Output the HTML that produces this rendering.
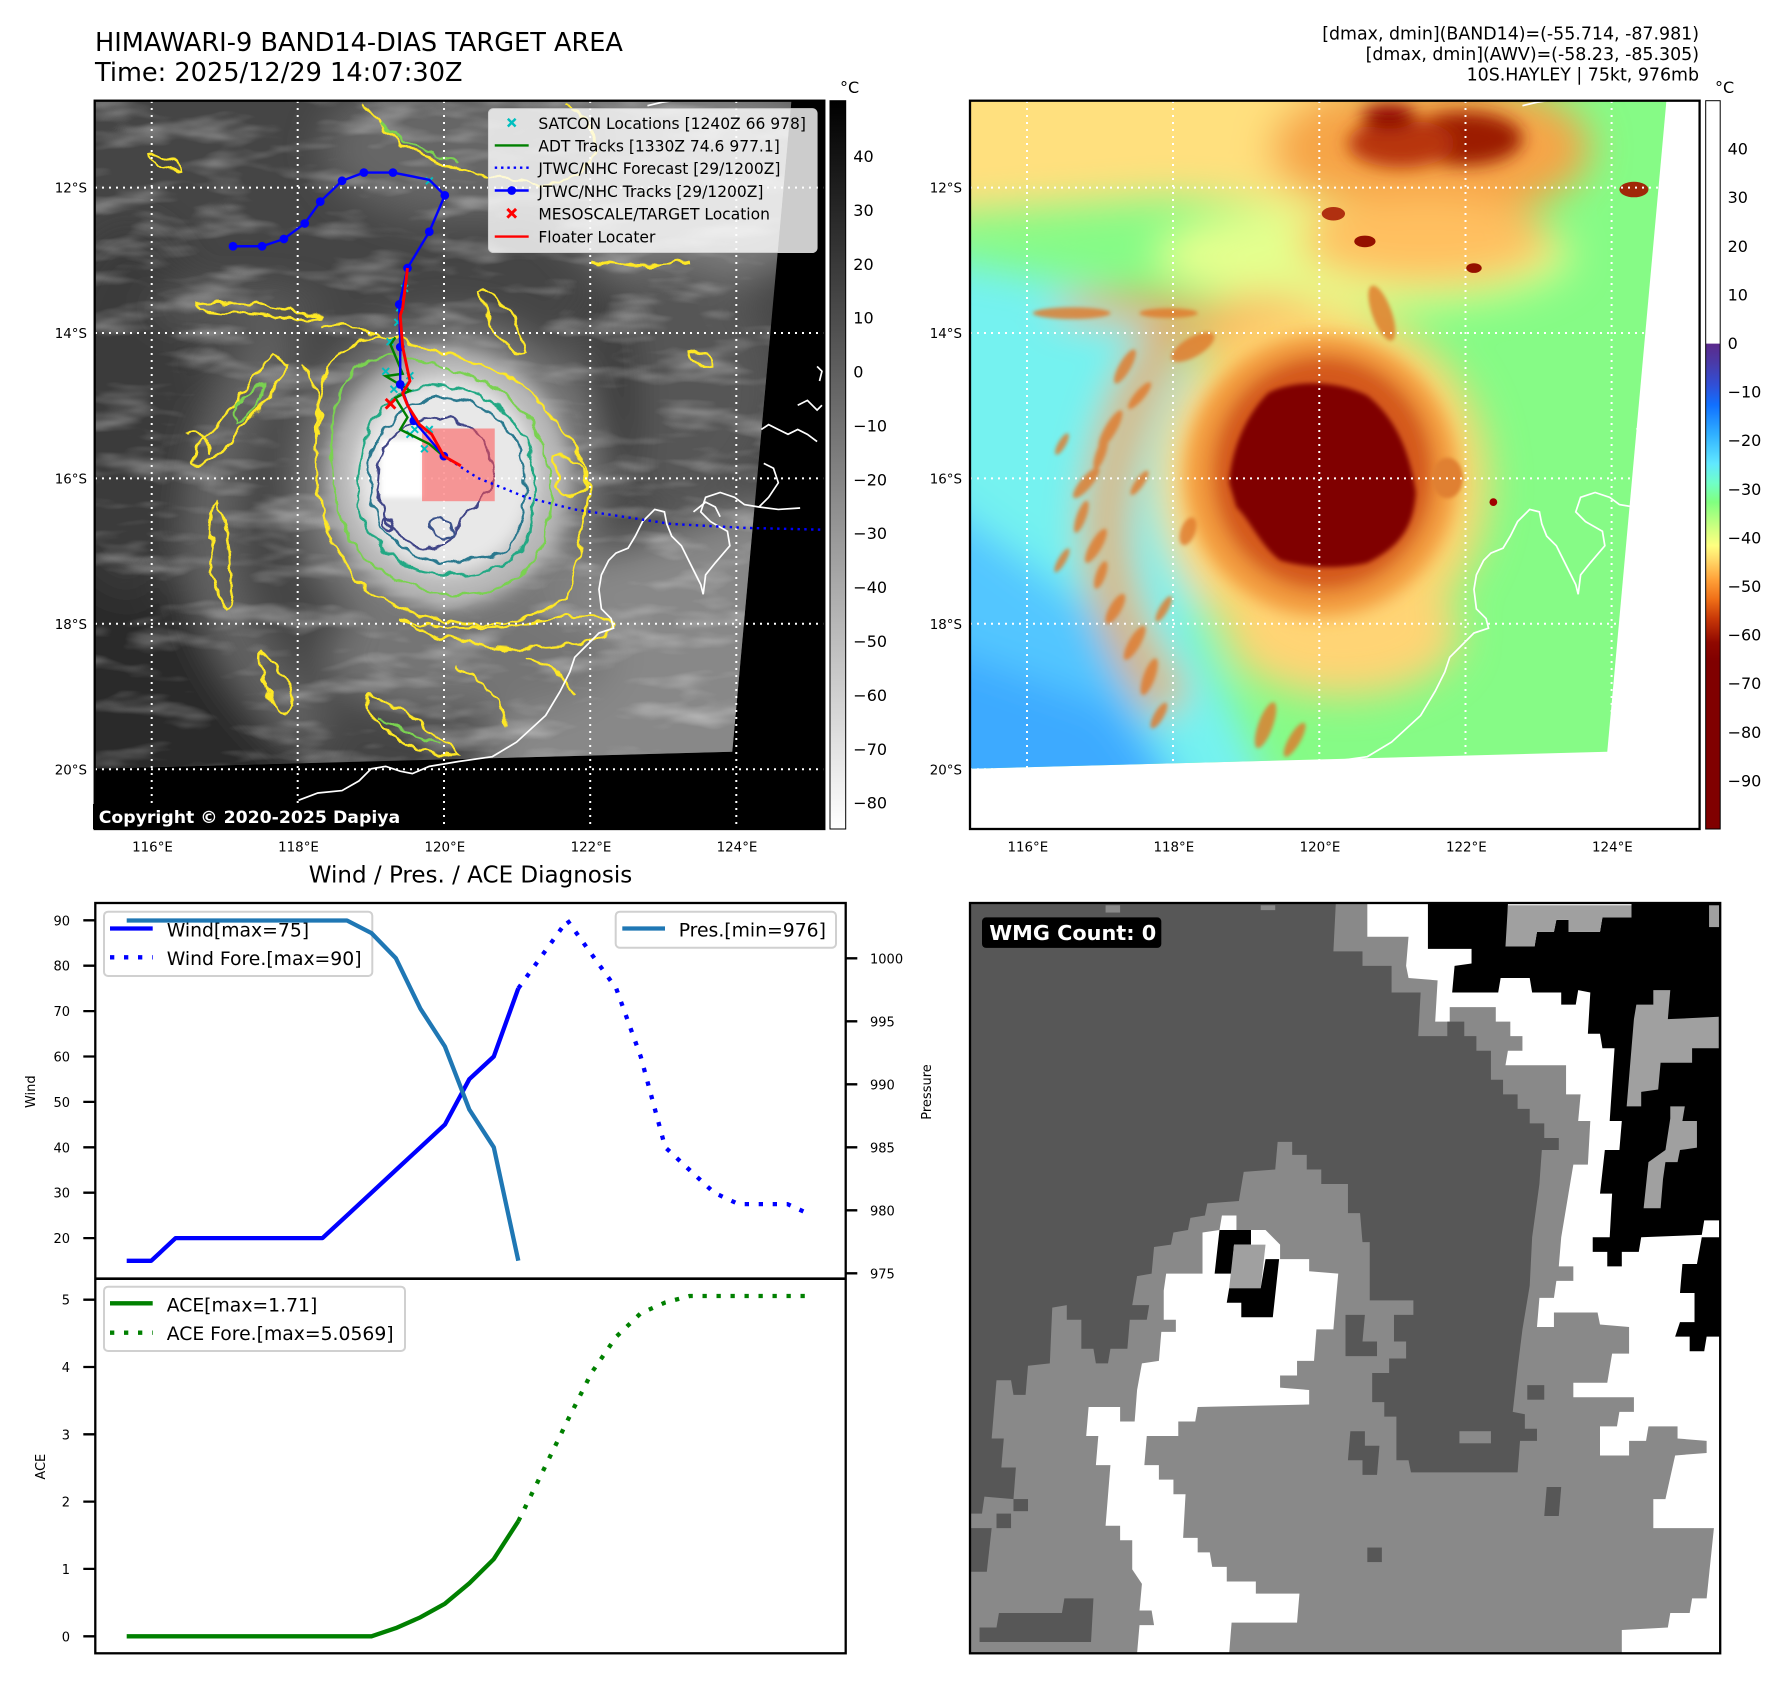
<!DOCTYPE html>
<html><head><meta charset="utf-8">
<style>
html,body{margin:0;padding:0;background:#fff;}
svg{display:block;}
text{font-family:"DejaVu Sans","Liberation Sans",sans-serif;}
</style></head>
<body>
<svg width="1788" height="1690" viewBox="0 0 1788 1690" xmlns="http://www.w3.org/2000/svg">
<defs>
 <filter id="b50" x="-30%" y="-30%" width="160%" height="160%"><feGaussianBlur stdDeviation="40"/></filter>
 <filter id="b20" x="-30%" y="-30%" width="160%" height="160%"><feGaussianBlur stdDeviation="18"/></filter>
 <filter id="b6" x="-30%" y="-30%" width="160%" height="160%"><feGaussianBlur stdDeviation="5"/></filter>
 <filter id="b4" x="-50%" y="-50%" width="200%" height="200%"><feGaussianBlur stdDeviation="4"/></filter>
 <filter id="wig" x="-5%" y="-5%" width="110%" height="110%"><feTurbulence type="fractalNoise" baseFrequency="0.03" numOctaves="2" seed="4" result="t"/><feDisplacementMap in="SourceGraphic" in2="t" scale="26" xChannelSelector="R" yChannelSelector="G"/></filter>
 <filter id="tex" x="0" y="0" width="100%" height="100%"><feTurbulence type="fractalNoise" baseFrequency="0.006 0.02" numOctaves="3" seed="11"/><feColorMatrix type="matrix" values="0 0 0 0 1  0 0 0 0 1  0 0 0 0 1  1.6 0 0 0 -0.78"/></filter>
 <clipPath id="ax"><rect x="9.7" y="11.8" width="1505" height="1502.5"/></clipPath>
 <clipPath id="dat"><polygon points="10,12 1447,12 1325,1355 10,1390"/></clipPath>
 <linearGradient id="gcb" x1="0" y1="0" x2="0" y2="1"><stop offset="0" stop-color="#000"/><stop offset="1" stop-color="#fff"/></linearGradient>
 <linearGradient id="ccb" x1="0" y1="0" x2="0" y2="1">
  <stop offset="0" stop-color="#fff"/><stop offset="0.333" stop-color="#fff"/>
  <stop offset="0.334" stop-color="#5b2a8c"/><stop offset="0.36" stop-color="#4a3aa8"/>
  <stop offset="0.391" stop-color="#3050d8"/><stop offset="0.418" stop-color="#1070ff"/>
  <stop offset="0.458" stop-color="#30b0ff"/><stop offset="0.498" stop-color="#60e8ff"/>
  <stop offset="0.525" stop-color="#70ffc8"/><stop offset="0.551" stop-color="#80ff80"/>
  <stop offset="0.591" stop-color="#d8ff80"/><stop offset="0.611" stop-color="#ffff80"/>
  <stop offset="0.631" stop-color="#ffd868"/><stop offset="0.658" stop-color="#ffa038"/>
  <stop offset="0.684" stop-color="#f07018"/><stop offset="0.711" stop-color="#c83808"/>
  <stop offset="0.744" stop-color="#900800"/><stop offset="0.77" stop-color="#800000"/>
  <stop offset="1" stop-color="#800000"/>
 </linearGradient>
</defs>

<!-- Titles -->
<text x="95" y="51" font-size="25.6">HIMAWARI-9 BAND14-DIAS TARGET AREA</text>
<text x="95" y="81" font-size="25.6">Time: 2025/12/29 14:07:30Z</text>
<text x="1699" y="39.5" font-size="17.4" text-anchor="end">[dmax, dmin](BAND14)=(-55.714, -87.981)</text>
<text x="1699" y="60" font-size="17.4" text-anchor="end">[dmax, dmin](AWV)=(-58.23, -85.305)</text>
<text x="1699" y="80.5" font-size="17.4" text-anchor="end">10S.HAYLEY | 75kt, 976mb</text>

<!-- ================= LEFT MAP ================= -->
<g transform="translate(90,95) scale(0.48473)">
 <g clip-path="url(#ax)">
  <rect x="0" y="0" width="1568" height="1568" fill="#000"/>
  <g clip-path="url(#dat)">
   <rect x="0" y="0" width="1568" height="1568" fill="#454545"/>
   <g filter="url(#b50)">
    <ellipse cx="1250" cy="170" rx="320" ry="220" fill="#7e7e7e"/>
    <ellipse cx="780" cy="110" rx="300" ry="150" fill="#666"/>
    <polygon points="-100,850 300,1100 520,1500 -100,1500" fill="#2c2c2c"/>
    <ellipse cx="80" cy="650" rx="170" ry="380" fill="#3a3a3a"/>
    <polygon points="950,980 1450,820 1400,1450 780,1450" fill="#888"/>
    <ellipse cx="1200" cy="600" rx="220" ry="260" fill="#575757"/>
    <path d="M1060,420 Q1120,640 1060,880" stroke="#333" stroke-width="70" fill="none"/>
    <ellipse cx="740" cy="800" rx="320" ry="340" fill="#7a7a7a"/>
    <path d="M400,500 Q240,680 250,940 Q270,1160 470,1320" stroke="#666" stroke-width="100" fill="none"/>
    <ellipse cx="780" cy="1160" rx="300" ry="120" fill="#747474"/>
    <ellipse cx="300" cy="440" rx="180" ry="30" fill="#636363"/>
   </g>
   <rect x="0" y="0" width="1568" height="1568" filter="url(#tex)" opacity="0.55"/>
   <g filter="url(#b20)">
    <ellipse cx="740" cy="790" rx="250" ry="265" fill="#b8b8b8"/>
    <ellipse cx="735" cy="785" rx="185" ry="200" fill="#e8e8e8"/>
   </g>
   <rect x="600" y="712" width="88" height="118" fill="#fff" filter="url(#b6)"/>
  </g>
  <!-- contours -->
  <g clip-path="url(#dat)">
  <g filter="url(#wig)" fill="none" stroke-width="5">
   <g stroke="#fde725">
    <path d="M480,600 C490,520 560,495 640,500 C700,530 790,545 880,590 C950,650 1010,720 1030,800 C1030,880 1000,960 990,1020 C960,1070 880,1085 800,1095 C700,1085 610,1055 560,1010 C500,940 470,860 465,760 C465,690 470,640 480,600 Z"/>
    <path d="M380,540 C330,560 320,620 290,650 C250,700 210,720 215,760 C240,770 280,740 300,700 C330,660 380,620 410,560 Z"/>
    <path d="M260,840 C240,900 250,980 270,1050 C285,1080 300,1040 290,980 C285,920 280,870 260,840 Z"/>
    <path d="M350,1150 C380,1160 410,1200 420,1260 C410,1290 380,1280 370,1240 C360,1200 345,1180 350,1150 Z"/>
    <path d="M570,1240 C620,1250 680,1290 760,1360 C700,1370 640,1340 600,1300 C580,1280 565,1260 570,1240 Z"/>
    <path d="M560,20 C600,60 640,110 700,130 C760,160 830,170 900,180 C960,190 1020,170 1040,120 C1050,80 1020,40 980,20"/>
    <path d="M220,432 C300,420 400,440 480,462 C420,470 330,450 230,445 Z"/>
    <path d="M800,410 C840,400 880,440 900,530 C870,540 840,500 820,460 Z"/>
    <path d="M960,740 C990,740 1020,760 1025,800 C1020,830 990,835 965,810 Z"/>
    <path d="M1235,530 C1260,525 1290,540 1285,555 C1260,565 1240,560 1235,530 Z"/>
    <path d="M120,125 C150,120 190,140 190,155 C160,160 130,150 120,125 Z"/>
    <path d="M640,1080 C720,1110 820,1100 900,1090 C980,1080 1060,1060 1080,1100 C1050,1130 980,1140 900,1140 C800,1140 700,1120 640,1080 Z"/>
    <path d="M1040,340 C1100,350 1150,360 1240,345"/>
    <path d="M200,700 C230,690 260,720 250,740"/>
    <path d="M760,1180 C800,1200 840,1240 860,1300"/>
    <path d="M440,560 C470,600 480,650 470,700"/>
    <path d="M480,480 C520,470 560,480 600,500"/>
    <path d="M900,1160 C940,1170 980,1200 1000,1240"/>
   </g>
   <g stroke="#7ad151">
    <path d="M510,620 C530,550 610,520 690,555 C790,570 870,610 920,690 C955,760 960,850 930,940 C900,1000 830,1030 750,1030 C660,1025 590,990 545,930 C510,870 495,780 500,700 C502,670 505,640 510,620 Z"/>
    <path d="M300,640 C320,620 345,600 360,600 C350,640 320,670 300,680 Z"/>
    <path d="M600,60 C650,100 700,120 760,140"/>
    <path d="M590,1280 C630,1300 680,1320 720,1340"/>
   </g>
   <path stroke="#22a884" d="M555,760 C565,680 620,615 700,598 C790,595 860,640 905,720 C930,800 925,880 890,940 C850,985 780,995 710,988 C630,975 575,920 555,860 C550,830 550,790 555,760 Z"/>
   <path stroke="#2a788e" d="M575,770 C590,690 640,640 710,625 C790,620 850,660 885,730 C905,800 900,880 865,935 C820,965 750,970 690,955 C630,935 590,885 578,830 Z"/>
   <path stroke="#414487" d="M595,760 C610,700 660,670 720,665 C780,670 830,710 835,780 C830,830 790,850 760,880 C745,920 710,945 670,930 C630,910 600,860 592,810 Z"/>
   <path stroke="#3b528b" d="M700,880 C720,870 750,880 745,905 C730,920 705,915 700,880 Z"/>
   <circle cx="620" cy="885" r="10" stroke="#414487"/>
  </g>
  </g>
  <!-- coastline -->
  <g fill="none" stroke="#fff" stroke-width="3.5">
   <path d="M430,1455 L470,1440 L520,1435 L555,1415 L580,1390 L610,1385 L640,1395 L665,1400 L700,1385 L760,1375 L830,1365 L880,1335 L940,1280 L970,1230 L990,1190 L1000,1160 L1030,1130 L1050,1110 L1080,1100 L1075,1080 L1055,1060 L1050,1020 L1055,990 L1070,960 L1085,945 L1110,935 L1125,910 L1140,880 L1165,855 L1185,860 L1190,885 L1200,910 L1220,930 L1240,970 L1260,1010 L1265,1030 L1270,990 L1290,965 L1320,930 L1315,900 L1280,880 L1260,860 L1270,830 L1300,820 L1330,830 L1350,845 L1380,850 L1420,855 L1465,852"/>
   <path d="M1385,690 L1400,680 L1420,690 L1440,700 L1460,690 L1480,700 L1500,715"/>
   <path d="M1460,640 L1480,630 L1500,650 L1510,640"/>
   <path d="M1500,560 L1510,570 L1505,590"/>
   <path d="M1390,760 L1410,770 L1420,800 L1400,830 L1380,850"/>
   <path d="M1245,860 L1270,840 L1290,850 L1300,870"/>
   <path d="M1150,22 L1180,15 L1200,12"/>
  </g>
 </g>
</g>

<!-- ================= RIGHT MAP ================= -->
<g transform="translate(965,95) scale(0.48473)">
 <g clip-path="url(#ax)">
  <rect x="0" y="0" width="1568" height="1568" fill="#fff"/>
  <g clip-path="url(#dat)">
   <rect x="0" y="0" width="1568" height="1568" fill="#86fb86"/>
   <g filter="url(#b50)">
    <polygon points="-100,-100 820,-100 720,230 420,210 -100,250" fill="#ffe07e"/>
    <ellipse cx="960" cy="110" rx="330" ry="150" fill="#f6a446"/>
    <ellipse cx="820" cy="330" rx="430" ry="110" fill="#e4ff8e"/>
    <ellipse cx="950" cy="300" rx="260" ry="90" fill="#ffc060"/>
    <ellipse cx="620" cy="480" rx="160" ry="70" fill="#f8b860"/>
    <polygon points="-100,330 300,400 470,560 480,1100 660,1500 -100,1500" fill="#74f2f0"/>
    <polygon points="-100,800 260,1060 480,1500 -100,1500" fill="#52c6ff"/>
    <polygon points="-100,1120 300,1260 470,1500 -100,1500" fill="#3eaaff"/>
    <ellipse cx="740" cy="800" rx="340" ry="360" fill="#ffd672"/>
    <ellipse cx="780" cy="1110" rx="240" ry="130" fill="#ffd474"/>
    <path d="M440,470 Q300,660 290,900 Q300,1110 430,1260" stroke="#e0b070" stroke-width="90" fill="none"/>
    <ellipse cx="340" cy="440" rx="160" ry="28" fill="#eea060"/>
   </g>
   <g filter="url(#b20)">
    <ellipse cx="735" cy="785" rx="280" ry="290" fill="#f29a3e"/>
    <ellipse cx="738" cy="780" rx="228" ry="242" fill="#d4581a"/>
    <ellipse cx="1030" cy="90" rx="120" ry="55" fill="#9c1a04"/>
    <ellipse cx="900" cy="100" rx="110" ry="50" fill="#b83410"/>
    <ellipse cx="875" cy="45" rx="55" ry="25" fill="#8b0000"/>
   </g>
   <path filter="url(#b6)" fill="#800000" d="M545,800 C550,730 580,660 625,615 C670,590 760,585 830,620 C880,660 915,720 930,820 C925,890 900,930 830,965 C770,980 700,975 650,960 C610,930 590,880 560,850 Z"/>
   <g fill="#e0782a" opacity="0.8" filter="url(#b4)">
    <ellipse cx="330" cy="560" rx="40" ry="12" transform="rotate(-60 330 560)"/>
    <ellipse cx="360" cy="620" rx="35" ry="10" transform="rotate(-50 360 620)"/>
    <ellipse cx="300" cy="690" rx="45" ry="12" transform="rotate(-60 300 690)"/>
    <ellipse cx="280" cy="740" rx="35" ry="10" transform="rotate(-70 280 740)"/>
    <ellipse cx="250" cy="800" rx="40" ry="12" transform="rotate(-50 250 800)"/>
    <ellipse cx="240" cy="870" rx="35" ry="10" transform="rotate(-70 240 870)"/>
    <ellipse cx="270" cy="930" rx="40" ry="12" transform="rotate(-60 270 930)"/>
    <ellipse cx="280" cy="990" rx="30" ry="10" transform="rotate(-70 280 990)"/>
    <ellipse cx="310" cy="1060" rx="35" ry="12" transform="rotate(-60 310 1060)"/>
    <ellipse cx="350" cy="1130" rx="40" ry="12" transform="rotate(-60 350 1130)"/>
    <ellipse cx="380" cy="1200" rx="40" ry="12" transform="rotate(-70 380 1200)"/>
    <ellipse cx="400" cy="1280" rx="30" ry="10" transform="rotate(-60 400 1280)"/>
    <ellipse cx="620" cy="1300" rx="50" ry="15" transform="rotate(-70 620 1300)"/>
    <ellipse cx="680" cy="1330" rx="40" ry="12" transform="rotate(-60 680 1330)"/>
    <ellipse cx="220" cy="450" rx="80" ry="12"/>
    <ellipse cx="420" cy="450" rx="60" ry="10"/>
    <ellipse cx="470" cy="520" rx="50" ry="20" transform="rotate(-30 470 520)"/>
    <ellipse cx="200" cy="720" rx="25" ry="8" transform="rotate(-60 200 720)"/>
    <ellipse cx="460" cy="900" rx="30" ry="15" transform="rotate(-70 460 900)"/>
    <ellipse cx="860" cy="450" rx="20" ry="60" transform="rotate(-20 860 450)"/>
    <ellipse cx="360" cy="800" rx="30" ry="9" transform="rotate(-55 360 800)"/>
    <ellipse cx="200" cy="960" rx="28" ry="8" transform="rotate(-60 200 960)"/>
    <ellipse cx="410" cy="1060" rx="30" ry="9" transform="rotate(-60 410 1060)"/>
   </g>
   <ellipse cx="995" cy="790" rx="32" ry="42" fill="#e08030" filter="url(#b4)"/>
   <ellipse cx="1380" cy="195" rx="30" ry="16" fill="#a02808"/>
   <ellipse cx="825" cy="302" rx="22" ry="12" fill="#951000"/>
   <ellipse cx="1050" cy="357" rx="16" ry="10" fill="#951000"/>
   <ellipse cx="760" cy="245" rx="24" ry="14" fill="#b03010"/>
   <circle cx="1090" cy="840" r="8" fill="#a00000"/>
  </g>
  <g fill="none" stroke="#fff" stroke-width="3.5">
   <path d="M430,1455 L470,1440 L520,1435 L555,1415 L580,1390 L610,1385 L640,1395 L665,1400 L700,1385 L760,1375 L830,1365 L880,1335 L940,1280 L970,1230 L990,1190 L1000,1160 L1030,1130 L1050,1110 L1080,1100 L1075,1080 L1055,1060 L1050,1020 L1055,990 L1070,960 L1085,945 L1110,935 L1125,910 L1140,880 L1165,855 L1185,860 L1190,885 L1200,910 L1220,930 L1240,970 L1260,1010 L1265,1030 L1270,990 L1290,965 L1320,930 L1315,900 L1280,880 L1260,860 L1270,830 L1300,820 L1330,830 L1350,845 L1380,850 L1420,855 L1465,852"/>
   <path d="M1385,690 L1400,680 L1420,690 L1440,700"/>
   <path d="M1150,22 L1180,15 L1200,12"/>
  </g>
 </g>
</g>

<!-- gridlines -->
<g stroke="#fff" stroke-width="2" stroke-dasharray="2,5" fill="none">
 <path d="M151.7,101V829M297.7,101V829M444,101V829M590.2,101V829M736.3,101V829"/>
 <path d="M95,187.6H824M95,333H824M95,478.4H824M95,623.8H824M95,769.3H824"/>
 <path d="M1027,101V829M1173,101V829M1319.3,101V829M1465.5,101V829M1611.6,101V829"/>
 <path d="M970,187.6H1699M970,333H1699M970,478.4H1699M970,623.8H1699M970,769.3H1699"/>
</g>

<!-- tracks etc on left map -->
<g transform="translate(90,95) scale(0.48473)">
 <g clip-path="url(#ax)">
  <rect x="685" y="688" width="150" height="150" fill="#ff5050" fill-opacity="0.55"/>
  <polyline fill="none" stroke="#0000ff" stroke-width="5" stroke-dasharray="5,9" points="730,745 800,790 900,830 1000,855 1100,870 1200,885 1350,893 1520,897"/>
  <g stroke="#00bfbf" stroke-width="4">
   <path d="M632,432l14,14M632,446l14,-14M642,392l14,14M642,406l14,-14M628,462l14,14M628,476l14,-14M612,502l14,14M612,516l14,-14M603,563l14,14M603,577l14,-14M643,592l14,14M643,606l14,-14M653,572l14,14M653,586l14,-14M663,683l14,14M663,697l14,-14M693,683l14,14M693,697l14,-14M683,723l14,14M683,737l14,-14M653,693l14,14M653,707l14,-14M693,170l14,14M693,184l14,-14M620,600l14,14M620,614l14,-14"/>
  </g>
  <polyline fill="none" stroke="#008000" stroke-width="5" points="630,500 620,515 645,575 610,580 660,610 630,625 655,665 640,690 700,720 735,750"/>
  <polyline fill="none" stroke="#0000ff" stroke-width="5" points="295,312 355,312 400,297 443,265 475,220 520,177 565,160 625,160 700,175 732,207 700,282 655,357 638,432 640,520 640,597 668,672 730,745"/>
  <g fill="#0000ff">
   <circle cx="295" cy="312" r="9"/><circle cx="355" cy="312" r="9"/><circle cx="400" cy="297" r="9"/><circle cx="443" cy="265" r="9"/><circle cx="475" cy="220" r="9"/><circle cx="520" cy="177" r="9"/><circle cx="565" cy="160" r="9"/><circle cx="625" cy="160" r="9"/><circle cx="732" cy="207" r="9"/><circle cx="700" cy="282" r="9"/><circle cx="655" cy="357" r="9"/><circle cx="638" cy="432" r="9"/><circle cx="640" cy="520" r="9"/><circle cx="640" cy="597" r="9"/><circle cx="668" cy="672" r="9"/><circle cx="730" cy="745" r="9"/>
  </g>
  <polyline fill="none" stroke="#ff0000" stroke-width="6" points="655,357 645,440 640,455 645,520 660,590 645,615 655,640 680,680 705,700 730,745 765,765"/>
  <path d="M610,627l20,20M610,647l20,-20" stroke="#ff0000" stroke-width="6"/>
  <!-- legend -->
  <rect x="822" y="28" width="678" height="297" rx="10" fill="#fff" fill-opacity="0.8" stroke="#cccccc" stroke-width="2"/>
  <path d="M862,49l16,16M862,65l16,-16" stroke="#00bfbf" stroke-width="5"/>
  <line x1="835" y1="104" x2="905" y2="104" stroke="#008000" stroke-width="5"/>
  <line x1="835" y1="150" x2="905" y2="150" stroke="#0000ff" stroke-width="5" stroke-dasharray="5,8"/>
  <line x1="835" y1="197" x2="905" y2="197" stroke="#0000ff" stroke-width="5"/>
  <circle cx="870" cy="197" r="9" fill="#0000ff"/>
  <path d="M861,235l18,18M861,253l18,-18" stroke="#ff0000" stroke-width="6"/>
  <line x1="835" y1="292" x2="905" y2="292" stroke="#ff0000" stroke-width="5"/>
  <g font-size="32" fill="#000">
   <text x="925" y="70">SATCON Locations [1240Z 66 978]</text>
   <text x="925" y="117">ADT Tracks [1330Z 74.6 977.1]</text>
   <text x="925" y="163">JTWC/NHC Forecast [29/1200Z]</text>
   <text x="925" y="210">JTWC/NHC Tracks [29/1200Z]</text>
   <text x="925" y="257">MESOSCALE/TARGET Location</text>
   <text x="925" y="304">Floater Locater</text>
  </g>
 </g>
</g>

<!-- copyright -->
<rect x="93" y="804" width="312" height="25" fill="#000"/>
<text x="98.7" y="823" font-size="17.3" font-weight="bold" fill="#fff">Copyright © 2020-2025 Dapiya</text>

<!-- map frames -->
<rect x="94.7" y="100.7" width="729.6" height="728.3" fill="none" stroke="#000" stroke-width="2.3"/>
<rect x="970" y="100.7" width="729.6" height="728.3" fill="none" stroke="#000" stroke-width="2.3"/>

<!-- colorbars -->
<rect x="830" y="100.7" width="15.7" height="728.3" fill="url(#gcb)" stroke="#000" stroke-width="1"/>
<rect x="1705.7" y="100.7" width="14.5" height="728.3" fill="url(#ccb)" stroke="#000" stroke-width="1"/>
<text x="840" y="93" font-size="16">°C</text>
<text x="1715" y="93" font-size="16">°C</text>
<g font-size="16">
 <text x="853.3" y="162">40</text><text x="853.3" y="215.9">30</text><text x="853.3" y="269.8">20</text><text x="853.3" y="323.7">10</text><text x="853.3" y="377.5">0</text>
 <text x="853.3" y="431.4">−10</text><text x="853.3" y="485.3">−20</text><text x="853.3" y="539.2">−30</text><text x="853.3" y="593.1">−40</text><text x="853.3" y="647">−50</text>
 <text x="853.3" y="700.9">−60</text><text x="853.3" y="754.8">−70</text><text x="853.3" y="808.7">−80</text>
 <text x="1727.6" y="154.6">40</text><text x="1727.6" y="203.2">30</text><text x="1727.6" y="251.8">20</text><text x="1727.6" y="300.4">10</text><text x="1727.6" y="349">0</text>
 <text x="1727.6" y="397.6">−10</text><text x="1727.6" y="446.2">−20</text><text x="1727.6" y="494.8">−30</text><text x="1727.6" y="543.4">−40</text><text x="1727.6" y="592">−50</text>
 <text x="1727.6" y="640.6">−60</text><text x="1727.6" y="689.2">−70</text><text x="1727.6" y="737.8">−80</text><text x="1727.6" y="786.4">−90</text>
</g>

<!-- map tick labels -->
<g font-size="13.4">
 <g text-anchor="end">
  <text x="87" y="192.6">12°S</text><text x="87" y="338">14°S</text><text x="87" y="483.4">16°S</text><text x="87" y="628.8">18°S</text><text x="87" y="774.3">20°S</text>
  <text x="962" y="192.6">12°S</text><text x="962" y="338">14°S</text><text x="962" y="483.4">16°S</text><text x="962" y="628.8">18°S</text><text x="962" y="774.3">20°S</text>
 </g>
 <g text-anchor="middle">
  <text x="152.5" y="851.5">116°E</text><text x="298.5" y="851.5">118°E</text><text x="444.8" y="851.5">120°E</text><text x="591" y="851.5">122°E</text><text x="737" y="851.5">124°E</text>
  <text x="1027.8" y="851.5">116°E</text><text x="1173.8" y="851.5">118°E</text><text x="1320" y="851.5">120°E</text><text x="1466.3" y="851.5">122°E</text><text x="1612.4" y="851.5">124°E</text>
 </g>
</g>

<!-- ================= WIND / PRES / ACE ================= -->
<text x="470.5" y="882.7" font-size="23" text-anchor="middle">Wind / Pres. / ACE Diagnosis</text>

<polyline fill="none" stroke="#0000ff" stroke-width="4.3" stroke-linejoin="round" points="126.7,1260.8 151.2,1260.8 175.6,1238.1 200.1,1238.1 224.6,1238.1 249.1,1238.1 273.6,1238.1 298,1238.1 322.5,1238.1 347,1215.4 371.5,1192.7 395.9,1170 420.4,1147.3 444.9,1124.6 469.3,1079.2 493.8,1056.5 518.3,988.4"/>
<polyline fill="none" stroke="#0000ff" stroke-width="4.3" stroke-dasharray="4.3,9.7" points="518.3,988.4 542.8,954.4 567.3,920.3 591.7,954.4 616.2,988.4 640.7,1056.5 665.2,1147.3 689.6,1170 714.1,1192.7 738.6,1204.1 763.1,1204.1 787.5,1204.1 812,1215.4"/>
<rect x="104" y="911.7" width="268.3" height="64.3" rx="4" fill="#fff" fill-opacity="0.8" stroke="#d0d0d0" stroke-width="2"/>
<line x1="110" y1="928.5" x2="152.7" y2="928.5" stroke="#0000ff" stroke-width="4.3"/>
<line x1="110" y1="957.3" x2="152.7" y2="957.3" stroke="#0000ff" stroke-width="4.3" stroke-dasharray="4.3,9.7"/>
<text x="166.7" y="936.7" font-size="18.8">Wind[max=75]</text>
<text x="166.7" y="965" font-size="18.8">Wind Fore.[max=90]</text>
<polyline fill="none" stroke="#1f77b4" stroke-width="4.3" stroke-linejoin="round" points="126.7,920.5 347,920.5 371.5,933.1 395.9,958.3 420.4,1008.7 444.9,1046.5 469.3,1109.5 493.8,1147.3 518.3,1260.7"/>
<rect x="615.7" y="911.7" width="220.3" height="36" rx="4" fill="#fff" fill-opacity="0.8" stroke="#d0d0d0" stroke-width="2"/>
<line x1="622.3" y1="928.5" x2="665" y2="928.5" stroke="#1f77b4" stroke-width="4.3"/>
<text x="678.7" y="936.7" font-size="18.8">Pres.[min=976]</text>

<polyline fill="none" stroke="#008000" stroke-width="4.3" stroke-linejoin="round" points="126.7,1636.3 371.5,1636.3 395.9,1628.1 420.4,1617.3 444.9,1603.7 469.3,1583.3 493.8,1559.1 518.3,1521.2"/>
<polyline fill="none" stroke="#008000" stroke-width="4.3" stroke-dasharray="4.3,9.7" points="518.3,1521.2 542.8,1471.4 567.3,1421 591.7,1372.5 616.2,1336.8 640.7,1313.3 665.2,1302.5 689.6,1296 714.1,1296 738.6,1296 763.1,1296 787.5,1296 812,1296"/>
<rect x="104" y="1286.7" width="301" height="64.3" rx="4" fill="#fff" fill-opacity="0.8" stroke="#d0d0d0" stroke-width="2"/>
<line x1="110" y1="1303.3" x2="152.7" y2="1303.3" stroke="#008000" stroke-width="4.3"/>
<line x1="110" y1="1332.7" x2="152.7" y2="1332.7" stroke="#008000" stroke-width="4.3" stroke-dasharray="4.3,9.7"/>
<text x="166.7" y="1311.7" font-size="18.8">ACE[max=1.71]</text>
<text x="166.7" y="1340" font-size="18.8">ACE Fore.[max=5.0569]</text>

<rect x="95.3" y="903" width="750.4" height="750.3" fill="none" stroke="#000" stroke-width="2.3"/>
<line x1="95.3" y1="1278.7" x2="845.7" y2="1278.7" stroke="#000" stroke-width="2.6"/>

<g stroke="#000" stroke-width="2.3">
 <path d="M83.3,920.3H95.3M83.3,965.7H95.3M83.3,1011.1H95.3M83.3,1056.5H95.3M83.3,1101.9H95.3M83.3,1147.3H95.3M83.3,1192.7H95.3M83.3,1238.1H95.3"/>
 <path d="M845.7,958.3H857.3M845.7,1021.3H857.3M845.7,1084.3H857.3M845.7,1147.3H857.3M845.7,1210.3H857.3M845.7,1273.3H857.3"/>
 <path d="M83.3,1299.7H95.3M83.3,1367H95.3M83.3,1434.3H95.3M83.3,1501.6H95.3M83.3,1568.9H95.3M83.3,1636.3H95.3"/>
</g>
<g font-size="13" text-anchor="end">
 <text x="70" y="925.3">90</text><text x="70" y="970.7">80</text><text x="70" y="1016.1">70</text><text x="70" y="1061.5">60</text>
 <text x="70" y="1106.9">50</text><text x="70" y="1152.3">40</text><text x="70" y="1197.7">30</text><text x="70" y="1243.1">20</text>
 <text x="70" y="1304.7">5</text><text x="70" y="1372">4</text><text x="70" y="1439.3">3</text><text x="70" y="1506.6">2</text><text x="70" y="1573.9">1</text><text x="70" y="1641.3">0</text>
</g>
<g font-size="13">
 <text x="870" y="963.3">1000</text><text x="870" y="1026.3">995</text><text x="870" y="1089.3">990</text><text x="870" y="1152.3">985</text><text x="870" y="1215.3">980</text><text x="870" y="1278.3">975</text>
</g>
<text transform="translate(35,1091.7) rotate(-90)" font-size="13" text-anchor="middle">Wind</text>
<text transform="translate(931,1092) rotate(-90)" font-size="13" text-anchor="middle">Pressure</text>
<text transform="translate(45,1466.7) rotate(-90)" font-size="13" text-anchor="middle">ACE</text>

<!-- ================= WMG PANEL ================= -->
<g transform="translate(965,898) scale(0.48473)">
 <rect x="10" y="10" width="1548" height="1548" fill="#898989"/>
 <path fill="#fff" d="M830,10 L1558,10 L1558,1558 L1355,1558 L1355,1510 L1450,1505 L1455,1475 L1495,1475 L1500,1445 L1530,1445 L1545,1300 L1420,1300 L1420,1240 L1445,1240 L1465,1150 L1530,1145 L1530,1120 L1470,1115 L1470,1090 L1410,1090 L1405,1120 L1370,1120 L1370,1150 L1310,1150 L1310,1090 L1345,1090 L1350,1060 L1380,1060 L1380,1030 L1255,1030 L1255,1000 L1325,1000 L1335,940 L1370,940 L1370,885 L1310,880 L1305,855 L1215,855 L1215,885 L1180,885 L1185,825 L1215,825 L1220,790 L1255,790 L1255,760 L1225,760 L1230,700 L1245,610 L1255,550 L1285,550 L1290,460 L1265,460 L1270,405 L1240,405 L1240,345 L1115,345 L1120,315 L1150,315 L1150,285 L1125,285 L1125,255 L1095,255 L1095,225 L1000,225 L1000,255 L970,255 L975,170 L915,165 L910,140 L915,80 L830,80 Z"/>
 <path fill="#000" d="M955,10 L1120,10 L1120,100 L1175,100 L1180,70 L1215,70 L1220,45 L1245,45 L1245,70 L1310,70 L1315,40 L1375,40 L1375,10 L1558,10 L1558,665 L1525,665 L1520,695 L1395,700 L1390,730 L1355,730 L1355,760 L1325,760 L1325,730 L1295,730 L1295,700 L1330,700 L1335,610 L1310,610 L1320,520 L1350,520 L1355,460 L1330,460 L1340,310 L1315,310 L1310,280 L1285,280 L1290,195 L1265,190 L1260,220 L1230,220 L1230,195 L1170,195 L1165,165 L1105,165 L1100,195 L1005,195 L1010,140 L1045,135 L1045,105 L955,105 Z"/>
 <path fill="#a0a0a0" d="M1120,15 L1375,15 L1375,40 L1315,40 L1310,70 L1245,70 L1245,45 L1220,45 L1215,70 L1180,70 L1175,100 L1115,100 Z"/>
 <rect x="1535" y="15" width="23" height="45" fill="#a0a0a0"/>
 <path fill="#a0a0a0" d="M1385,220 L1420,220 L1420,190 L1455,190 L1450,250 L1555,245 L1555,310 L1500,310 L1500,340 L1435,340 L1430,395 L1395,400 L1395,430 L1365,430 L1375,310 L1380,250 Z"/>
 <path fill="#a0a0a0" d="M1455,430 L1485,430 L1480,460 L1510,460 L1510,515 L1475,520 L1470,545 L1445,545 L1440,580 L1435,640 L1400,640 L1410,545 L1445,520 L1455,455 Z"/>
 <path fill="#000" d="M1480,755 L1510,755 L1520,700 L1558,700 L1558,905 L1530,905 L1525,935 L1495,935 L1495,905 L1465,905 L1475,875 L1505,875 L1505,815 L1475,815 Z"/>
 <path fill="#575757" d="M10,10 L765,10 L760,110 L820,110 L820,140 L880,140 L880,195 L940,195 L935,285 L995,285 L995,255 L1030,255 L1030,285 L1055,285 L1055,315 L1085,315 L1085,375 L1110,375 L1110,405 L1140,405 L1140,435 L1165,435 L1165,465 L1195,465 L1195,495 L1225,495 L1225,520 L1190,520 L1185,590 L1170,700 L1165,800 L1150,890 L1140,970 L1130,1060 L1155,1065 L1155,1095 L1180,1095 L1180,1120 L1145,1120 L1140,1185 L920,1185 L915,1160 L890,1160 L890,1070 L865,1070 L865,1040 L840,1040 L840,980 L875,980 L875,950 L910,950 L910,915 L885,915 L885,860 L925,860 L925,830 L835,830 L835,710 L820,710 L815,650 L790,650 L790,590 L735,590 L735,560 L705,560 L705,530 L675,530 L675,503 L645,503 L640,560 L575,565 L565,625 L500,630 L495,655 L465,660 L460,685 L430,690 L425,715 L390,720 L385,775 L355,780 L345,840 L380,840 L375,870 L340,870 L335,930 L300,930 L295,960 L270,960 L265,930 L240,930 L240,870 L210,870 L210,840 L180,845 L175,960 L130,965 L125,1025 L100,1025 L95,995 L65,995 L55,1115 L80,1115 L75,1175 L105,1175 L100,1240 L40,1235 L35,1270 L10,1270 Z"/>
 <rect x="290" y="15" width="30" height="15" fill="#898989"/>
 <rect x="610" y="15" width="30" height="10" fill="#898989"/>
 <g fill="#575757">
  <path d="M10,1300 L55,1300 L45,1390 L10,1390 Z"/>
  <rect x="65" y="1270" width="30" height="30"/>
  <rect x="100" y="1240" width="30" height="25"/>
  <path d="M30,1505 L65,1505 L70,1475 L200,1475 L205,1445 L265,1445 L260,1535 L30,1535 Z"/>
  <path d="M785,860 L825,860 L820,915 L850,915 L850,945 L785,945 Z"/>
  <path d="M795,1100 L825,1100 L825,1130 L855,1130 L850,1190 L820,1190 L820,1160 L790,1160 Z"/>
  <rect x="1160" y="1005" width="35" height="30"/>
  <path d="M1200,1215 L1230,1215 L1225,1275 L1195,1275 Z"/>
  <rect x="830" y="1340" width="30" height="30"/>
 </g>
 <rect x="1020" y="1100" width="65" height="25" fill="#898989"/>
 <path fill="#fff" d="M490,690 L525,685 L530,655 L560,655 L560,685 L620,685 L650,715 L650,745 L710,745 L710,770 L770,775 L765,830 L760,890 L725,890 L720,955 L685,955 L685,985 L650,985 L650,1010 L710,1015 L710,1045 L480,1050 L475,1080 L440,1080 L440,1110 L375,1110 L370,1170 L400,1170 L400,1200 L430,1200 L430,1230 L455,1230 L450,1320 L480,1320 L480,1350 L505,1350 L510,1380 L540,1380 L540,1410 L600,1410 L600,1435 L690,1435 L685,1495 L550,1495 L545,1558 L355,1558 L360,1500 L390,1500 L385,1470 L360,1470 L365,1415 L345,1385 L345,1325 L320,1325 L320,1295 L290,1295 L300,1170 L270,1170 L275,1110 L250,1110 L255,1050 L320,1050 L320,1080 L350,1080 L355,1015 L365,960 L400,955 L405,895 L435,895 L435,870 L410,870 L410,810 L415,775 L490,775 Z"/>
 <path fill="#000" d="M525,685 L590,685 L590,715 L555,715 L550,775 L515,775 Z"/>
 <path fill="#a0a0a0" d="M555,715 L620,715 L610,805 L545,805 Z"/>
 <path fill="#000" d="M620,745 L648,745 L635,865 L570,865 L570,835 L540,835 L545,805 L610,805 L615,775 Z"/>
</g>
<rect x="970" y="903" width="750.2" height="750.3" fill="none" stroke="#000" stroke-width="2.3"/>
<rect x="982" y="917.4" width="179.3" height="30.5" rx="4" fill="#000"/>
<text x="989.2" y="940.2" font-size="20.8" font-weight="bold" fill="#fff">WMG Count: 0</text>
</svg>
</body></html>
